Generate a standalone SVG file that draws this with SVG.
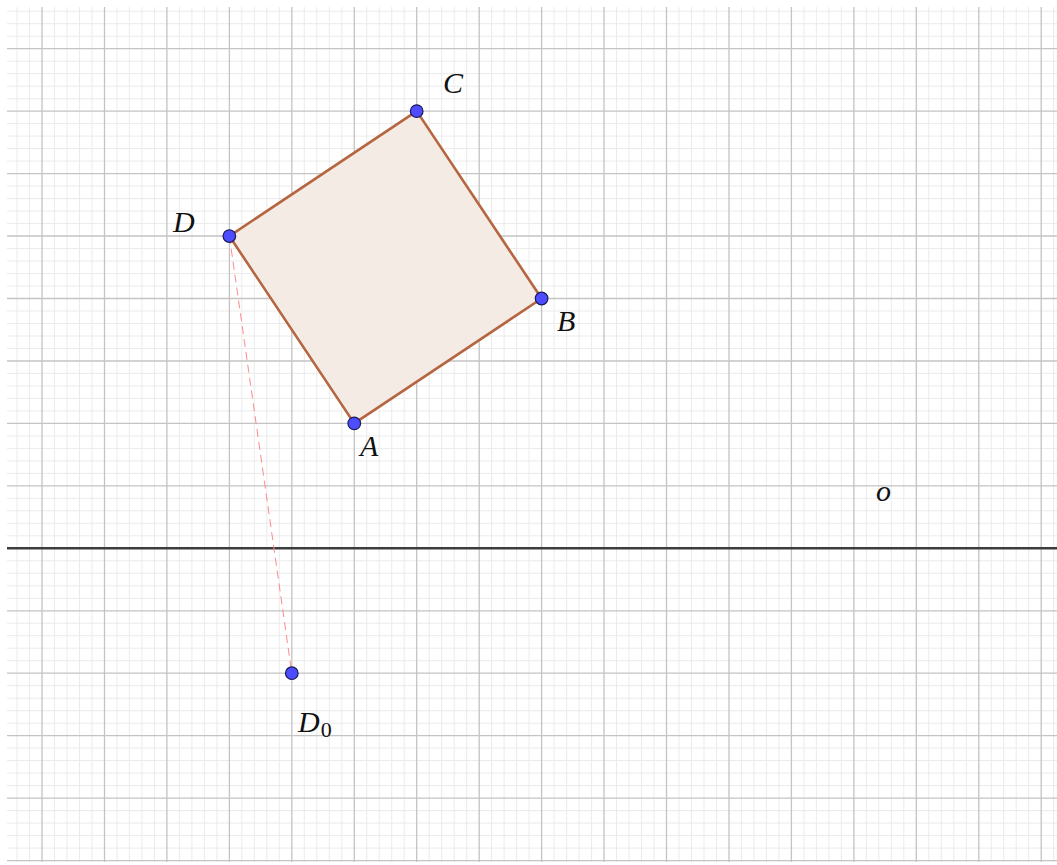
<svg xmlns="http://www.w3.org/2000/svg" width="1057" height="865" viewBox="0 0 1057 865">
<style>
.minor{stroke:#ebebeb;stroke-width:1;fill:none}
.major{stroke:#c4c4c4;stroke-width:1.3;fill:none}
.axis{stroke:#3c3c3c;stroke-width:2.6}
.poly{fill:#f5ebe5;stroke:#b5653f;stroke-width:2.6;stroke-linejoin:round}
.pt{fill:#4d4dff;stroke:#1a1a5a;stroke-width:1.2}
.lbl{font-family:"Liberation Serif",serif;font-style:italic;font-size:30px;fill:#111}
.sub{font-family:"Liberation Serif",serif;font-size:22px;fill:#111}
</style>
<rect width="1057" height="865" fill="#ffffff"/>
<g id="grid">
<path class="minor" d="M17 7V862M29.5 7V862M54.5 7V862M67 7V862M79.5 7V862M92 7V862M117 7V862M129.4 7V862M141.9 7V862M154.4 7V862M179.4 7V862M191.9 7V862M204.4 7V862M216.9 7V862M241.8 7V862M254.3 7V862M266.8 7V862M279.3 7V862M304.3 7V862M316.8 7V862M329.3 7V862M341.8 7V862M366.7 7V862M379.2 7V862M391.7 7V862M404.2 7V862M429.2 7V862M441.7 7V862M454.2 7V862M466.7 7V862M491.6 7V862M504.1 7V862M516.6 7V862M529.1 7V862M554.1 7V862M566.6 7V862M579.1 7V862M591.6 7V862M616.5 7V862M629 7V862M641.5 7V862M654 7V862M679 7V862M691.5 7V862M704 7V862M716.5 7V862M741.4 7V862M753.9 7V862M766.4 7V862M778.9 7V862M803.9 7V862M816.4 7V862M828.9 7V862M841.4 7V862M866.3 7V862M878.8 7V862M891.3 7V862M903.8 7V862M928.8 7V862M941.3 7V862M953.8 7V862M966.3 7V862M991.2 7V862M1003.7 7V862M1016.2 7V862M1028.7 7V862M1053.7 7V862
M7 11.2H1057M7 23.7H1057M7 36.2H1057M7 61.2H1057M7 73.7H1057M7 86.2H1057M7 98.7H1057M7 123.6H1057M7 136.1H1057M7 148.6H1057M7 161.1H1057M7 186.1H1057M7 198.6H1057M7 211.1H1057M7 223.6H1057M7 248.5H1057M7 261H1057M7 273.5H1057M7 286H1057M7 311H1057M7 323.5H1057M7 336H1057M7 348.5H1057M7 373.4H1057M7 385.9H1057M7 398.4H1057M7 410.9H1057M7 435.9H1057M7 448.4H1057M7 460.9H1057M7 473.4H1057M7 498.3H1057M7 510.8H1057M7 523.3H1057M7 535.8H1057M7 560.8H1057M7 573.3H1057M7 585.8H1057M7 598.3H1057M7 623.2H1057M7 635.7H1057M7 648.2H1057M7 660.7H1057M7 685.7H1057M7 698.2H1057M7 710.7H1057M7 723.2H1057M7 748.1H1057M7 760.6H1057M7 773.1H1057M7 785.6H1057M7 810.6H1057M7 823.1H1057M7 835.6H1057M7 848.1H1057"/>
<path class="major" d="M42 7V862M104.5 7V862M166.9 7V862M229.4 7V862M291.8 7V862M354.3 7V862M416.7 7V862M479.2 7V862M541.6 7V862M604 7V862M666.5 7V862M729 7V862M791.4 7V862M853.9 7V862M916.3 7V862M978.8 7V862M1041.2 7V862
M7 48.7H1057M7 111.2H1057M7 173.6H1057M7 236H1057M7 298.5H1057M7 361H1057M7 423.4H1057M7 485.9H1057M7 610.8H1057M7 673.2H1057M7 735.7H1057M7 798.1H1057M7 860.6H1057"/>
</g>
<g id="axis-o">
<line class="axis" x1="7" y1="548.3" x2="1057" y2="548.3"/>
<text class="lbl" x="876" y="501">o</text>
</g>
<g id="square">
<polygon class="poly" points="354.25,423.4 541.6,298.5 416.7,111.15 229.35,236.05"/>
</g>
<g id="connectors">
<line x1="229.35" y1="236.05" x2="291.8" y2="673.2" stroke="#ff8a8a" stroke-width="1" stroke-dasharray="8,5"/>
</g>
<g id="node-A">
<circle class="pt" cx="354.25" cy="423.4" r="6.3"/>
<text class="lbl" x="360" y="456">A</text>
</g>
<g id="node-B">
<circle class="pt" cx="541.6" cy="298.5" r="6.3"/>
<text class="lbl" x="557" y="331">B</text>
</g>
<g id="node-C">
<circle class="pt" cx="416.7" cy="111.15" r="6.3"/>
<text class="lbl" x="443" y="93">C</text>
</g>
<g id="node-D">
<circle class="pt" cx="229.35" cy="236.05" r="6.3"/>
<text class="lbl" x="173" y="232">D</text>
</g>
<g id="node-D0">
<circle class="pt" cx="291.8" cy="673.2" r="6.3"/>
<text class="lbl" x="298" y="732">D<tspan class="sub" dx="1" dy="5" font-style="normal">0</tspan></text>
</g>
</svg>
